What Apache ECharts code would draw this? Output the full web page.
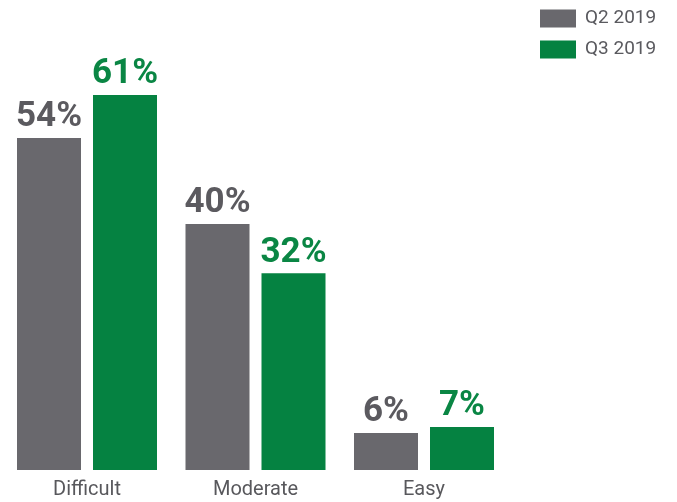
<!DOCTYPE html>
<html>
<head>
<meta charset="utf-8">
<script src="https://cdn.jsdelivr.net/npm/echarts@6/dist/echarts.min.js"></script>
<style>
  html, body { margin: 0; padding: 0; background: #fff; }
  #chart { width: 677px; height: 502px; }
</style>
</head>
<body>
<div id="chart"></div>
<script>
// Difficulty ratings by quarter (percent of respondents)
const categories = ['Difficult', 'Moderate', 'Easy'];
const seriesNames = ['Q2 2019', 'Q3 2019'];
const q2Values = [54, 40, 6];
const q3Values = [61, 32, 7];

const GREY = '#69686d';
const GREEN = '#058241';

const chart = echarts.init(document.getElementById('chart'), null, { renderer: 'canvas' });

function barSeries(name, values, color, labelColor) {
  return {
    name: name,
    type: 'bar',
    data: values,
    barWidth: 64,
    barGap: '18.75%',
    itemStyle: { color: color },
    label: {
      show: true,
      position: 'top',
      distance: 3,
      formatter: '{c}%',
      fontFamily: 'Roboto',
      fontWeight: 'bold',
      fontSize: 35,
      color: labelColor
    }
  };
}

chart.setOption({
  animation: false,
  legend: {
    orient: 'vertical',
    left: 540,
    top: 9,
    padding: 0,
    itemWidth: 36,
    itemHeight: 18,
    itemGap: 12,
    icon: 'rect',
    textStyle: { fontFamily: 'Roboto', fontSize: 19, color: '#5a5a5f', padding: [0, 0, 0, 4] },
    data: seriesNames
  },
  grid: { left: 2.75, right: 168.75, top: 39.7, bottom: 32, containLabel: false },
  xAxis: {
    type: 'category',
    data: categories,
    axisLine: { show: false },
    axisTick: { show: false },
    axisLabel: { fontFamily: 'Roboto', fontSize: 20, color: '#58585c', margin: 10 }
  },
  yAxis: {
    type: 'value',
    min: 0,
    max: 70,
    show: false,
    splitLine: { show: false }
  },
  series: [
    barSeries(seriesNames[0], q2Values, GREY, '#5b5a5f'),
    barSeries(seriesNames[1], q3Values, GREEN, '#0a8644')
  ]
});
</script>
</body>
</html>
